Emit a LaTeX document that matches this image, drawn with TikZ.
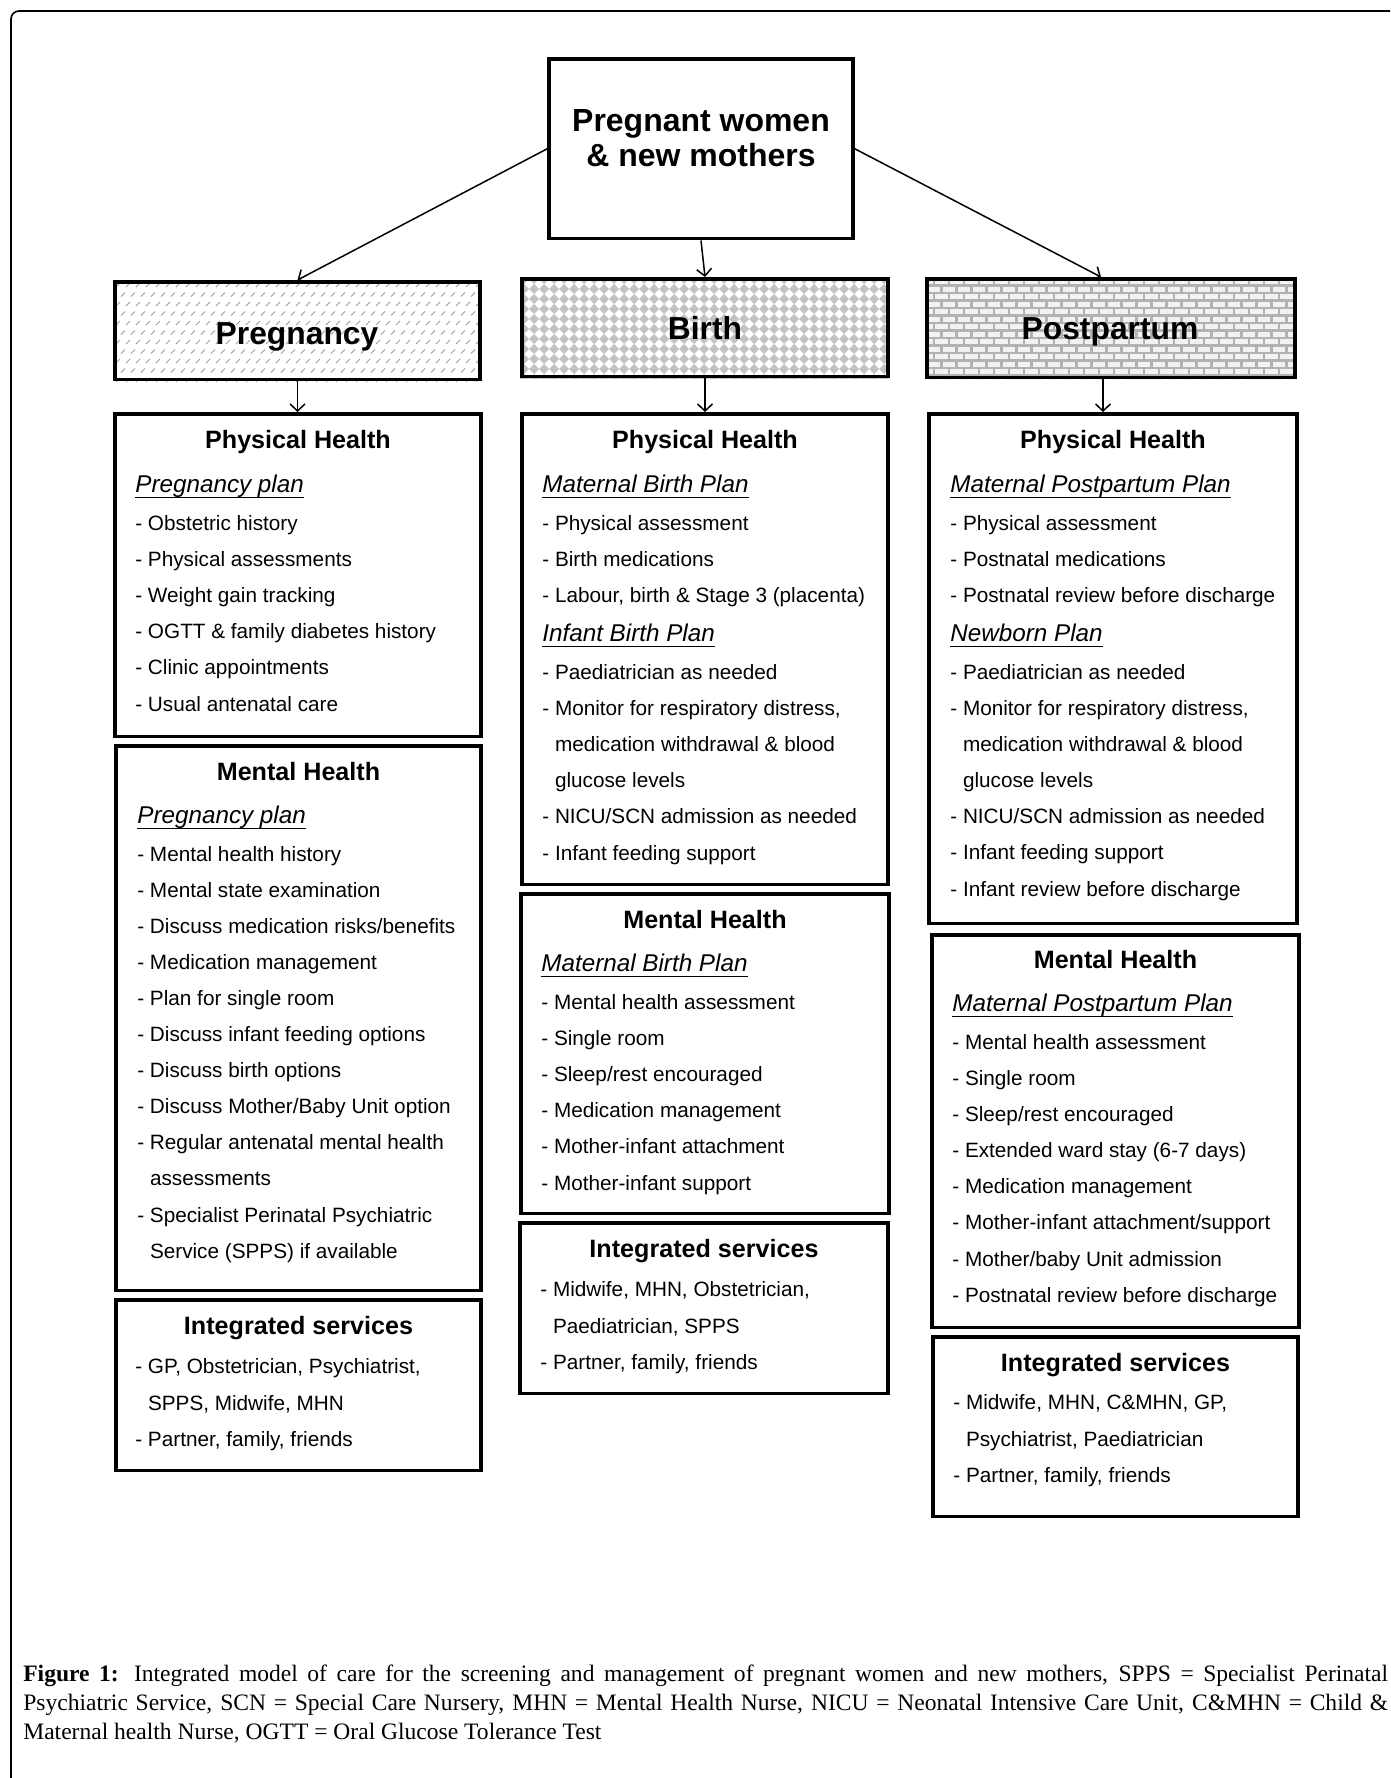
\documentclass[tikz,border=0pt]{standalone}
\usepackage{fontspec}
\setmainfont{Liberation Sans}
\newfontfamily\capfont{Liberation Serif}
\usepackage{xcolor}
\usetikzlibrary{arrows.meta,backgrounds}

\definecolor{dashgray}{gray}{0.62}
\definecolor{diagray}{gray}{0.76}
\definecolor{mortar}{gray}{0.70}
\definecolor{brick}{gray}{0.95}

\newcommand{\planhead}[1]{{\fontsize{13.8}{20.5}\selectfont\itshape\setbox0\hbox{#1}\rlap{\rule[-2.9pt]{\wd0}{0.8pt}}\box0}}
\newcommand{\gap}{\hphantom{- }}

% body: anchored at the baseline of its last line
\tikzset{
  panel/.style={draw, line width=2pt, anchor=north, inner sep=0pt},
  stage/.style={anchor=base, inner sep=0pt, font=\fontsize{18.1}{20}\selectfont\bfseries},
  head/.style={anchor=base, inner sep=0pt, font=\fontsize{14.3}{17}\selectfont\bfseries},
  body/.style={anchor=base west, inner sep=0pt, align=left, font=\fontsize{11.8}{20.5}\selectfont},
  capline/.style={anchor=base west, inner sep=0pt, font=\capfont\fontsize{13.4}{16.7}\selectfont},
  link/.style={line width=0.85pt, -{Straight Barb[length=4pt,width=8.5pt]}}
}

\begin{document}
\begin{tikzpicture}[x=0.02cm,y=-0.02cm]
		\useasboundingbox (0,0) rectangle (1390,1778);
		%外框
		\begin{scope}
			\clip (0,0) rectangle (1390,1778);
			\draw[line width=0.9pt, rounded corners=0.16cm] (11,11) rectangle (1430,1820);
		\end{scope}
		%顶部
		\node[panel, minimum width=6.08cm, minimum height=3.6cm] (women) at (701,57) {};
		\node[inner sep=0pt, align=center, font=\fontsize{18.2}{19.8}\selectfont\bfseries] (womenT) at (701,138) {Pregnant women\\\& new mothers};
		%三个阶段
		\node[panel, minimum width=7.3cm, minimum height=1.96cm] (preg) at (297.5,280) {};
		\node[panel, minimum width=7.32cm, minimum height=1.96cm] (birth) at (705,277) {};
		\node[panel, minimum width=7.36cm, minimum height=1.98cm] (post) at (1111,277) {};
		%底纹
		\begin{scope}[on background layer]
			\begin{scope}
				\clip (preg.north west) rectangle (preg.south east);
				\foreach \r in {0,...,10}
					\foreach \c in {0,...,37}
						\draw[dashgray, line width=0.5pt] ({118+10*\c+5*mod(\r,2)},{285+9.5*\r}) ++(-2,2) -- ++(4,-4);
			\end{scope}
			\begin{scope}
				\clip (birth.north west) rectangle (birth.south east);
				\foreach \r in {0,...,10}
					\foreach \c in {0,...,37}
						\fill[diagray] ({524+10*\c},{279+10*\r}) +(-5,0) -- +(0,-5) -- +(5,0) -- +(0,5) -- cycle;
			\end{scope}
			\begin{scope}
				\clip (post.north west) rectangle (post.south east);
				\fill[mortar] (post.north west) rectangle (post.south east);
				\foreach \r in {0,...,13}
					\foreach \c in {0,...,25}
						\fill[brick] ({920+15*\c+7.5*mod(\r,2)},{279+7.5*\r}) rectangle ++(12.5,5);
			\end{scope}
		\end{scope}
		\node[stage] (pregT) at (297,344) {Pregnancy};
		\node[stage] (birthT) at (705,339.5) {Birth};
		\node[stage] (postT) at (1110,339) {Postpartum};
		%Pregnancy 列
		\node[panel, minimum width=7.32cm, minimum height=6.46cm] (pregPhys) at (298,412) {};
		\node[panel, minimum width=7.3cm, minimum height=10.9cm] (pregMent) at (298.5,744) {};
		\node[panel, minimum width=7.3cm, minimum height=3.42cm] (pregInt) at (298.5,1298) {};
		\node[head] (pregPhysT) at (298,448) {Physical Health};
		\node[body] (pregPhysB) at (135,711) {\planhead{Pregnancy plan}\\[1.1pt]
			- Obstetric history\\
			- Physical assessments\\
			- Weight gain tracking\\
			- OGTT \& family diabetes history\\
			- Clinic appointments\\
			- Usual antenatal care};
		\node[head] (pregMentT) at (298.5,780) {Mental Health};
		\node[body] (pregMentB) at (137,1258) {\planhead{Pregnancy plan}\\[1.1pt]
			- Mental health history\\
			- Mental state examination\\
			- Discuss medication risks/benefits\\
			- Medication management\\
			- Plan for single room\\
			- Discuss infant feeding options\\
			- Discuss birth options\\
			- Discuss Mother/Baby Unit option\\
			- Regular antenatal mental health\\
			\gap assessments\\
			- Specialist Perinatal Psychiatric\\
			\gap Service (SPPS) if available};
		\node[head] (pregIntT) at (298.5,1334) {Integrated services};
		\node[body] (pregIntB) at (135,1446) {- GP, Obstetrician, Psychiatrist,\\
			\gap SPPS, Midwife, MHN\\
			- Partner, family, friends};
		%Birth 列
		\node[panel, minimum width=7.32cm, minimum height=9.42cm] (birthPhys) at (705,412) {};
		\node[panel, minimum width=7.36cm, minimum height=6.4cm] (birthMent) at (705,892) {};
		\node[panel, minimum width=7.36cm, minimum height=3.42cm] (birthInt) at (704,1221) {};
		\node[head] (birthPhysT) at (705,448) {Physical Health};
		\node[body] (birthPhysB) at (542,860) {\planhead{Maternal Birth Plan}\\[1.1pt]
			- Physical assessment\\
			- Birth medications\\
			- Labour, birth \& Stage 3 (placenta)\\[1.7pt]
			\planhead{Infant Birth Plan}\\[1.1pt]
			- Paediatrician as needed\\
			- Monitor for respiratory distress,\\
			\gap medication withdrawal \& blood\\
			\gap glucose levels\\
			- NICU/SCN admission as needed\\
			- Infant feeding support};
		\node[head] (birthMentT) at (705,928) {Mental Health};
		\node[body] (birthMentB) at (541,1190) {\planhead{Maternal Birth Plan}\\[1.1pt]
			- Mental health assessment\\
			- Single room\\
			- Sleep/rest encouraged\\
			- Medication management\\
			- Mother-infant attachment\\
			- Mother-infant support};
		\node[head] (birthIntT) at (704,1257) {Integrated services};
		\node[body] (birthIntB) at (540,1369) {- Midwife, MHN, Obstetrician,\\
			\gap Paediatrician, SPPS\\
			- Partner, family, friends};
		%Postpartum 列
		\node[panel, minimum width=7.36cm, minimum height=10.2cm] (postPhys) at (1113,412) {};
		\node[panel, minimum width=7.34cm, minimum height=7.86cm] (postMent) at (1115.5,933) {};
		\node[panel, minimum width=7.3cm, minimum height=3.6cm] (postInt) at (1115.5,1335) {};
		\node[head] (postPhysT) at (1113,448) {Physical Health};
		\node[body] (postPhysB) at (950,896) {\planhead{Maternal Postpartum Plan}\\[1.1pt]
			- Physical assessment\\
			- Postnatal medications\\
			- Postnatal review before discharge\\[1.7pt]
			\planhead{Newborn Plan}\\[1.1pt]
			- Paediatrician as needed\\
			- Monitor for respiratory distress,\\
			\gap medication withdrawal \& blood\\
			\gap glucose levels\\
			- NICU/SCN admission as needed\\
			- Infant feeding support\\
			- Infant review before discharge};
		\node[head] (postMentT) at (1115.5,968) {Mental Health};
		\node[body] (postMentB) at (952,1302) {\planhead{Maternal Postpartum Plan}\\[1.1pt]
			- Mental health assessment\\
			- Single room\\
			- Sleep/rest encouraged\\
			- Extended ward stay (6-7 days)\\
			- Medication management\\
			- Mother-infant attachment/support\\
			- Mother/baby Unit admission\\
			- Postnatal review before discharge};
		\node[head] (postIntT) at (1115.5,1371) {Integrated services};
		\node[body] (postIntB) at (953,1482) {- Midwife, MHN, C\&MHN, GP,\\
			\gap Psychiatrist, Paediatrician\\
			- Partner, family, friends};
		%箭头
		\draw[link] (women.west) -- (preg.north);
		\draw[link] (women.south) -- (birth.north);
		\draw[link] (women.east) -- ([xshift=-0.2cm]post.north);
		\draw[link] (preg.south) -- (preg.south |- pregPhys.north);
		\draw[link] (birth.south) -- (birth.south |- birthPhys.north);
		\draw[link] ([xshift=-0.16cm]post.south) -- ([xshift=-0.16cm]post.south |- postPhys.north);
		%图注
		\node[capline] (cap1) at (23,1681) {\makebox[27.3cm][s]{\textbf{Figure 1:} Integrated model of care for the screening and management of pregnant women and new mothers, SPPS = Specialist Perinatal}};
		\node[capline] (cap2) at (23,1710) {\makebox[27.3cm][s]{Psychiatric Service, SCN = Special Care Nursery, MHN = Mental Health Nurse, NICU = Neonatal Intensive Care Unit, C\&MHN = Child \&}};
		\node[capline] (cap3) at (23,1739) {Maternal health Nurse, OGTT = Oral Glucose Tolerance Test};
	\end{tikzpicture}
\end{document}
